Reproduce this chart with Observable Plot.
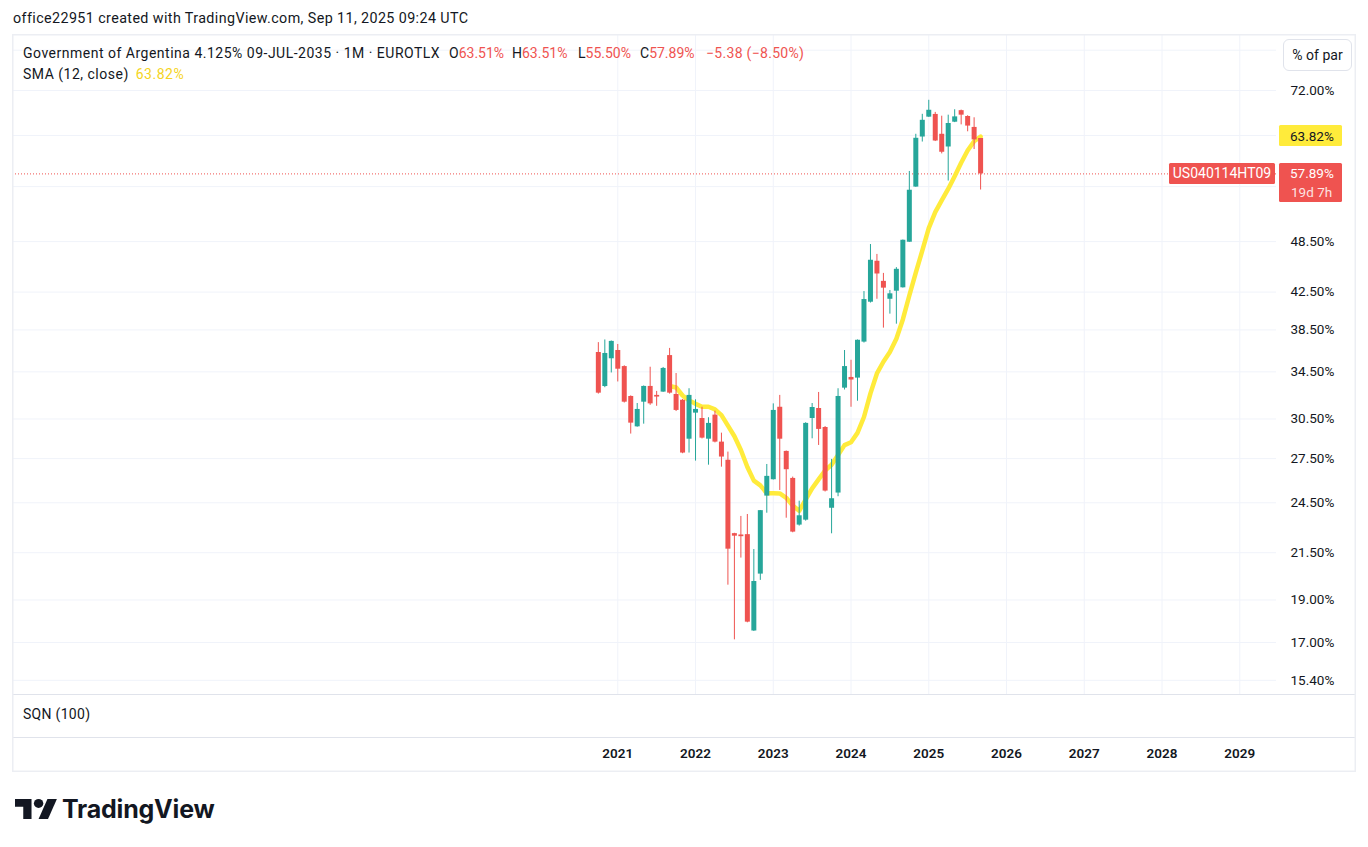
<!DOCTYPE html>
<html>
<head>
<meta charset="utf-8">
<script src="https://cdn.jsdelivr.net/npm/d3@7"></script>
<script src="https://cdn.jsdelivr.net/npm/@observablehq/plot@0.6"></script>
<style>
  html, body { margin: 0; padding: 0; background: #ffffff; }
  body { width: 1368px; height: 847px; position: relative; overflow: hidden; font-family: Roboto, "Noto Sans", sans-serif; color: #131722; }
  .abs { position: absolute; white-space: nowrap; }
  .red { color: #ef5350; }
  .yel { color: #f5d423; }
</style>
</head>
<body>
<div class="abs" id="hdr" style="left:13px; top:10px; font-size:14.3px; letter-spacing:0.4px;">office22951 created with TradingView.com, Sep 11, 2025 09:24 UTC</div>
<div class="abs" id="chart" style="left:12px; top:34px;"></div>
<div class="abs" id="leg1" style="left:23px; top:44px; font-size:14px; line-height:18px;"></div>
<div class="abs" id="leg2" style="left:23px; top:65px; font-size:14px; line-height:18px; letter-spacing:0.5px;"></div>
<div class="abs" style="left:1283px; top:39px; width:67px; height:30px; border:1px solid #e0e3eb; border-radius:6px; background:#fff; font-size:14px; line-height:30px; text-align:center;">% of par</div>
<div class="abs" style="left:23px; top:706px; font-size:14px; letter-spacing:0.3px;">SQN (100)</div>
<div class="abs" style="left:15px; top:797px; display:flex; align-items:center;">
  <svg width="42" height="20" viewBox="0 4 35.6 18" preserveAspectRatio="none" style="display:block">
    <path d="M14 22H7V11H0V4h14v18z" fill="#131722"/>
    <path d="M28 22h-8l7.5-18h8L28 22z" fill="#131722"/>
    <circle cx="20" cy="8" r="4" fill="#131722"/>
  </svg>
  <span style="margin-left:5px; font-family: Inter, Roboto, sans-serif; font-weight:700; font-size:25px; letter-spacing:-0.2px; line-height:24px; color:#131722;">TradingView</span>
</div>
<script>
// ---- data (monthly candles, % of par) ----
const months = ["2020-10","2020-11","2020-12","2021-01","2021-02","2021-03","2021-04","2021-05","2021-06","2021-07","2021-08","2021-09",
  "2021-10","2021-11","2021-12","2022-01","2022-02","2022-03","2022-04","2022-05","2022-06","2022-07","2022-08","2022-09",
  "2022-10","2022-11","2022-12","2023-01","2023-02","2023-03","2023-04","2023-05","2023-06","2023-07","2023-08","2023-09",
  "2023-10","2023-11","2023-12","2024-01","2024-02","2024-03","2024-04","2024-05","2024-06","2024-07","2024-08","2024-09",
  "2024-10","2024-11","2024-12","2025-01","2025-02","2025-03","2025-04","2025-05","2025-06","2025-07","2025-08","2025-09"];
const open  = [36.29,33.20,35.70,36.48,34.98,32.35,29.88,31.87,33.21,32.44,32.72,36.00,
  32.52,32.03,28.93,30.97,30.54,28.93,30.81,28.71,27.38,22.60,22.52,22.54,
  17.52,20.33,24.93,26.02,31.45,28.02,26.11,23.11,23.41,30.54,31.35,29.83,
  24.15,25.13,33.06,34.00,33.94,37.29,41.39,46.07,43.71,41.71,42.60,42.98,
  48.42,55.93,63.75,67.15,67.63,64.21,62.11,66.27,68.30,67.27,65.37,63.51];
const high  = [37.24,37.50,37.40,37.06,35.05,32.40,31.76,33.25,34.92,32.78,34.90,36.68,
  34.35,32.10,33.01,32.07,31.45,30.60,31.13,29.39,27.97,22.62,23.64,23.76,
  21.68,24.01,27.08,31.73,32.44,28.05,26.20,24.60,30.20,31.76,32.69,29.90,
  27.44,33.01,36.48,35.56,37.50,42.56,48.13,46.90,44.63,42.68,45.31,48.70,
  58.26,64.21,67.65,70.18,67.99,67.32,67.50,68.46,68.40,67.40,67.04,63.51];
const low   = [32.55,33.10,34.40,33.60,31.80,29.32,29.85,30.09,31.61,31.53,32.70,32.55,
  31.10,27.85,27.90,27.32,28.95,27.03,28.65,26.89,19.75,17.12,21.20,17.90,
  17.50,20.00,23.84,26.00,25.30,23.53,22.65,23.05,23.35,28.96,28.46,25.20,
  22.59,24.89,32.90,31.45,31.95,37.20,41.30,41.71,38.68,40.12,39.08,42.95,
  48.40,55.90,62.92,67.10,63.00,61.00,56.82,66.20,65.81,64.63,61.70,55.50];
const close = [32.63,36.20,37.36,34.74,31.87,30.17,31.27,33.21,31.73,32.30,34.81,32.63,
  31.19,27.90,32.44,31.27,29.01,30.15,28.71,27.61,21.70,22.45,22.42,17.93,
  19.94,24.00,26.25,31.19,28.93,26.71,22.69,23.68,30.15,31.43,29.68,25.26,
  24.76,32.35,34.98,33.77,37.47,41.68,46.19,44.56,42.94,42.31,45.11,48.67,
  55.47,63.54,66.60,68.37,63.09,61.26,66.05,67.20,67.50,65.60,63.27,57.89];
const smaPeriod = 12;
const smaLast = 63.82;
const countdown = "19d 7h";
const symbolCode = "US040114HT09";
const yTicks = [80, 72, 64, 56, 48.5, 42.5, 38.5, 34.5, 30.5, 27.5, 24.5, 21.5, 19, 17, 15.4];
const yTicksCovered = [80, 64, 56];   // grid lines whose labels are hidden under the price-scale labels
const years = [2021, 2022, 2023, 2024, 2025, 2026, 2027, 2028, 2029];

// ---- build ----
const GREEN = "#26a69a", RED = "#ef5350", YELLOW = "#ffeb3b";
const candles = months.map((m, i) => ({i, month: m, open: open[i], high: high[i], low: low[i], close: close[i]}));
const first = months[0].split("-").map(Number);
const yearIdx = years.map(y => (y - first[0]) * 12 + (1 - first[1]));
const last = candles[candles.length - 1];
const prev = candles[candles.length - 2];
const chg = last.close - prev.close;
const chgPct = chg / prev.close * 100;
const fmt = v => v.toFixed(2) + "%";
const minus = s => s.replace("-", "\u2212");

document.getElementById("leg1").innerHTML =
  `<span style="letter-spacing:0.5px">Government of Argentina 4.125% 09-JUL-2035 · 1M · EUROTLX</span>` +
  `<span class="abs" style="left:426px;top:0">O<span class="red">${fmt(last.open)}</span></span>` +
  `<span class="abs" style="left:489px;top:0">H<span class="red">${fmt(last.high)}</span></span>` +
  `<span class="abs" style="left:555px;top:0">L<span class="red">${fmt(last.low)}</span></span>` +
  `<span class="abs" style="left:617px;top:0">C<span class="red">${fmt(last.close)}</span></span>` +
  `<span class="abs red" style="left:683px;top:0;letter-spacing:0.3px">${minus(chg.toFixed(2))} (${minus(chgPct.toFixed(2))}%)</span>`;
document.getElementById("leg2").innerHTML = `SMA (${smaPeriod}, close) <span class="yel" style="margin-left:3px">${fmt(smaLast)}</span>`;

const W = 1344, H = 738;
const plot = Plot.plot({
  width: W, height: H,
  marginLeft: 0, marginRight: 80, marginTop: 0, marginBottom: 78,
  x: {type: "linear", domain: [-90.42, 104.67]},
  y: {type: "log", domain: [14.84, 83.35]},
  color: {type: "identity"},
  style: {fontFamily: "Roboto, 'Noto Sans', sans-serif", fontSize: "13px", color: "#131722", background: "transparent"},
  marks: [
    Plot.gridY(yTicks, {stroke: "#f0f3fa", strokeOpacity: 1}),
    Plot.gridX(yearIdx, {stroke: "#f0f3fa", strokeOpacity: 1}),
    Plot.ruleY([last.close], {stroke: RED, strokeDasharray: "1,2", strokeWidth: 1}),
    Plot.lineY(candles, Plot.windowY({k: smaPeriod, anchor: "end", reduce: "mean", strict: true},
      {x: "i", y: "close", stroke: YELLOW, strokeWidth: 4.5, strokeLinejoin: "round", strokeLinecap: "round"})),
    Plot.ruleX(candles, {x: "i", y1: "low", y2: "high", stroke: d => d.close >= d.open ? GREEN : RED, strokeWidth: 1}),
    Plot.ruleX(candles, {x: "i", y1: "open", y2: "close", stroke: d => d.close >= d.open ? GREEN : RED, strokeWidth: 5}),
    Plot.axisY(yTicks.filter(t => !yTicksCovered.includes(t)),
      {anchor: "right", tickSize: 0, tickPadding: 14, tickFormat: fmt, label: null, fontSize: 13.5}),
    Plot.axisX(yearIdx, {anchor: "bottom", tickSize: 0, tickPadding: 54, label: null,
      tickFormat: i => String(years[yearIdx.indexOf(i)]), fontWeight: 600, fontSize: 13.5})
  ]
});
document.getElementById("chart").appendChild(plot);

// ---- annotations placed through the plot's y scale ----
const svg = d3.select(plot);
const ys = plot.scale("y");
const Y = v => ys.apply(v);
const plotRight = W - 80;   // right edge of the plotting frame
svg.append("line").attr("x1", 0).attr("x2", W).attr("y1", H - 78 + 0.5).attr("y2", H - 78 + 0.5).attr("stroke", "#e0e3eb");
svg.append("line").attr("x1", 0).attr("x2", W).attr("y1", H - 35 + 0.5).attr("y2", H - 35 + 0.5).attr("stroke", "#e0e3eb");
svg.append("rect").attr("x", 0.75).attr("y", 0.75).attr("width", W - 1.5).attr("height", H - 1.5)
  .attr("fill", "none").attr("stroke", "#eceef3").attr("stroke-width", 1.5);

const g = svg.append("g").attr("font-size", 13.5).attr("text-anchor", "start")
  .attr("font-family", "Roboto, 'Noto Sans', sans-serif");
// SMA label
g.append("rect").attr("x", plotRight + 3).attr("y", Y(smaLast) - 11).attr("width", 63).attr("height", 21)
  .attr("fill", YELLOW).attr("rx", 1.5);
g.append("text").attr("x", plotRight + 14).attr("y", Y(smaLast)).attr("dy", "0.35em")
  .attr("fill", "#131722").text(fmt(smaLast));
// last price label with countdown
g.append("rect").attr("x", plotRight + 3).attr("y", Y(last.close) - 10.5).attr("width", 63).attr("height", 39)
  .attr("fill", RED).attr("rx", 1.5);
g.append("text").attr("x", plotRight + 14).attr("y", Y(last.close)).attr("dy", "0.35em")
  .attr("fill", "#ffffff").text(fmt(last.close));
g.append("text").attr("x", plotRight + 15).attr("y", Y(last.close) + 19).attr("dy", "0.35em")
  .attr("fill", "#ffffff").attr("fill-opacity", 0.85).text(countdown);
// symbol label
g.append("rect").attr("x", plotRight - 107).attr("y", Y(last.close) - 10.5).attr("width", 106).attr("height", 21)
  .attr("fill", RED).attr("rx", 1.5);
g.append("text").attr("x", plotRight - 54).attr("y", Y(last.close)).attr("dy", "0.35em").attr("text-anchor", "middle")
  .attr("font-size", 14).attr("fill", "#ffffff").text(symbolCode);
</script>
</body>
</html>
